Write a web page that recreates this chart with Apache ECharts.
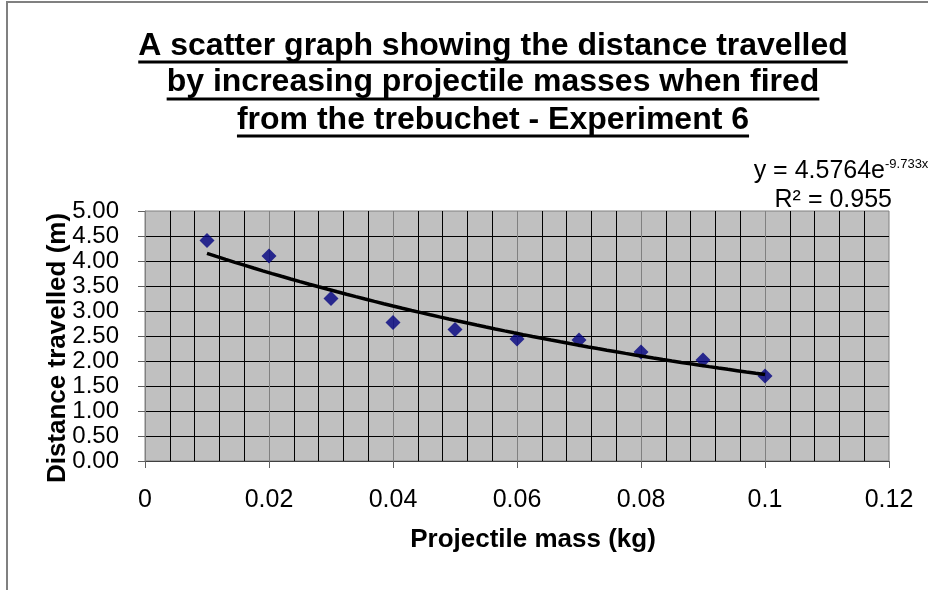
<!DOCTYPE html>
<html>
<head>
<meta charset="utf-8">
<style>
  html, body { margin: 0; padding: 0; background: #fff; }
  #chart { width: 928px; height: 590px; }
</style>
<script src="https://cdn.jsdelivr.net/npm/echarts@6/dist/echarts.min.js"></script>
</head>
<body>
<div id="chart"></div>
<script>
// Projectile mass (kg) and distance travelled (m), experiment 6
const masses = [0.01, 0.02, 0.03, 0.04, 0.05, 0.06, 0.07, 0.08, 0.09, 0.10];
const distances = [4.41, 4.10, 3.25, 2.77, 2.63, 2.44, 2.42, 2.18, 2.02, 1.70];

// Exponential trendline y = A * e^(B x), as printed on the chart
const trendA = 4.5764;
const trendB = -9.733;
const trendR2 = 0.955;

const titleLines = [
  'A scatter graph showing the distance travelled',
  'by increasing projectile masses when fired',
  'from the trebuchet - Experiment 6'
];
const xAxisTitle = 'Projectile mass (kg)';
const yAxisTitle = 'Distance travelled (m)';

const FONT = "'Liberation Sans', Arial, Helvetica, sans-serif";

// Sample the fitted curve across the measured mass range
const trendPoints = [];
const steps = 60;
for (let i = 0; i <= steps; i++) {
  const x = masses[0] + (masses[masses.length - 1] - masses[0]) * i / steps;
  trendPoints.push([x, trendA * Math.exp(trendB * x)]);
}

// Measure title text so each line gets an underline of matching width
const measureCtx = document.createElement('canvas').getContext('2d');
const titleFontSize = 32;
measureCtx.font = 'bold ' + titleFontSize + 'px ' + FONT;

const titleCenterX = 493;
const titleMidY = [46, 82, 120];
const underlineY = [62, 99, 136];

const graphics = [
  // outer chart-area frame (left and top edges visible)
  {
    type: 'rect',
    shape: { x: 7, y: 2, width: 1200, height: 1200 },
    style: { fill: 'none', stroke: '#808080', lineWidth: 2 },
    silent: true
  }
];
titleLines.forEach(function (line, i) {
  const w = measureCtx.measureText(line).width;
  graphics.push({
    type: 'text',
    x: titleCenterX,
    y: titleMidY[i],
    style: {
      text: line,
      font: 'bold ' + titleFontSize + 'px ' + FONT,
      fill: '#000',
      textAlign: 'center',
      textVerticalAlign: 'middle'
    }
  });
  graphics.push({
    type: 'rect',
    shape: { x: titleCenterX - w / 2, y: underlineY[i] - 1.5, width: w, height: 3 },
    style: { fill: '#000' }
  });
});

// Trendline equation and R² label
const eqMain = 'y = ' + trendA + 'e';
const eqExp = String(trendB) + 'x';
graphics.push({
  type: 'text',
  x: 885, y: 171,
  style: { text: eqMain, font: '25px ' + FONT, fill: '#000', textAlign: 'right', textVerticalAlign: 'middle' }
});
graphics.push({
  type: 'text',
  x: 885, y: 164,
  style: { text: eqExp, font: '13px ' + FONT, fill: '#000', textAlign: 'left', textVerticalAlign: 'middle' }
});
graphics.push({
  type: 'text',
  x: 892, y: 200,
  style: { text: 'R² = ' + trendR2, font: '25px ' + FONT, fill: '#000', textAlign: 'right', textVerticalAlign: 'middle' }
});

const chart = echarts.init(document.getElementById('chart'), null, { renderer: 'canvas' });

chart.setOption({
  animation: false,
  backgroundColor: '#fff',
  textStyle: { fontFamily: FONT },
  grid: {
    left: 145, top: 211, width: 744, height: 250,
    show: true,
    backgroundColor: '#C0C0C0',
    borderColor: '#808080',
    borderWidth: 1
  },
  xAxis: {
    type: 'value',
    min: 0, max: 0.12, interval: 0.02,
    name: xAxisTitle,
    nameLocation: 'middle',
    nameGap: 66,
    nameMoveOverlap: false,
    nameTextStyle: { fontSize: 26, fontWeight: 'bold', color: '#000', fontFamily: FONT, padding: [0, 0, 0, 32] },
    axisLine: { show: true, lineStyle: { color: '#404040', width: 1 } },
    axisTick: { show: true, length: 7, lineStyle: { color: '#606060' } },
    axisLabel: {
      margin: 27, fontSize: 25, color: '#000', fontFamily: FONT,
      formatter: function (v) { return String(+v.toFixed(2)); }
    },
    splitLine: { show: true, showMinLine: false, showMaxLine: false, lineStyle: { color: '#808080', width: 1 } },
    minorTick: { show: false, splitNumber: 5 },
    minorSplitLine: { show: true, lineStyle: { color: '#000', width: 1 } }
  },
  yAxis: {
    type: 'value',
    min: 0, max: 5, interval: 0.5,
    name: yAxisTitle,
    nameLocation: 'middle',
    nameGap: 74,
    nameMoveOverlap: false,
    nameTextStyle: { fontSize: 26, fontWeight: 'bold', color: '#000', fontFamily: FONT, padding: [0, 24, 0, 0] },
    axisLine: { show: true, lineStyle: { color: '#808080', width: 1 } },
    axisTick: { show: true, length: 7, lineStyle: { color: '#606060' } },
    axisLabel: {
      margin: 26, fontSize: 24, color: '#000', fontFamily: FONT,
      formatter: function (v) { return v.toFixed(2); }
    },
    splitLine: { show: true, showMinLine: false, showMaxLine: false, lineStyle: { color: '#000', width: 1 } }
  },
  series: [
    {
      name: 'Distance',
      type: 'scatter',
      symbol: 'diamond',
      symbolSize: 15,
      itemStyle: { color: '#000080' },
      z: 2,
      data: masses.map(function (m, i) { return [m, distances[i]]; })
    },
    {
      name: 'Expon. trend',
      type: 'line',
      showSymbol: false,
      smooth: false,
      lineStyle: { color: '#000', width: 3.5 },
      z: 3,
      data: trendPoints
    }
  ],
  graphic: graphics
});
</script>
</body>
</html>
